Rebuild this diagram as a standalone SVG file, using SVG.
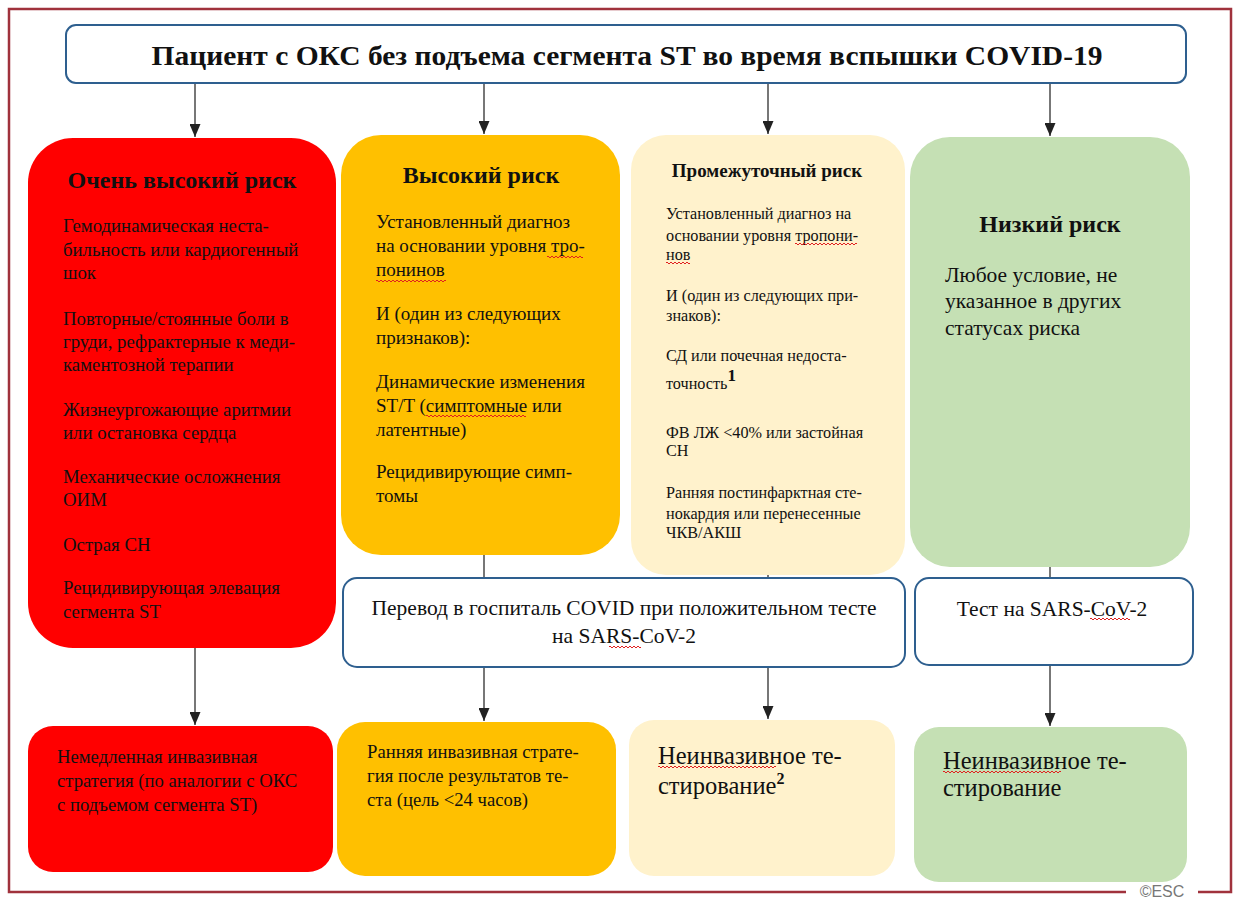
<svg xmlns="http://www.w3.org/2000/svg" width="1240" height="901" viewBox="0 0 1240 901">
  <style>
    .t { font-family: "Liberation Serif", "Times New Roman", serif; fill: #111; }
    .h { font-weight: bold; }
    .hd { font-size: 24px; font-weight: bold; }
    .b19 { font-size: 19px; }
    .b16 { font-size: 16.2px; }
    .b21 { font-size: 21.5px; }
    .b24 { font-size: 24.5px; }
    .box { stroke: #2e5f8f; stroke-width: 2; fill: #fff; }
    .conn { stroke: #555; stroke-width: 1.6; fill: none; }
    .sq { stroke: #e02020; stroke-width: 1; fill: none; }
  </style>
  <defs>
    <marker id="arr" viewBox="0 0 13 11" refX="13" refY="5.5" markerWidth="13" markerHeight="11" markerUnits="userSpaceOnUse" orient="auto">
      <path d="M0,0 L13,5.5 L0,11 Z" fill="#222"/>
    </marker>
  </defs>

  <rect width="1240" height="901" fill="#fff"/>

  <!-- outer frame -->
  <path d="M1126,892 L9,892 L9,9 L1231,9 L1231,892 L1198,892" fill="none" stroke="#a0323c" stroke-width="2.5"/>
  <text x="1162" y="897" font-family="Liberation Sans, Arial, sans-serif" font-size="16" fill="#777" text-anchor="middle">©ESC</text>

  <!-- connectors -->
  <g id="connectors">
    <line class="conn" x1="195" y1="84" x2="195" y2="137" marker-end="url(#arr)"/>
    <line class="conn" x1="484" y1="84" x2="484" y2="134" marker-end="url(#arr)"/>
    <line class="conn" x1="768" y1="84" x2="768" y2="134" marker-end="url(#arr)"/>
    <line class="conn" x1="1050" y1="84" x2="1050" y2="136" marker-end="url(#arr)"/>
    <line class="conn" x1="484" y1="555" x2="484" y2="579"/>
    <line class="conn" x1="768" y1="575" x2="768" y2="579"/>
    <line class="conn" x1="1050" y1="567" x2="1050" y2="579"/>
    <line class="conn" x1="195" y1="648" x2="195" y2="725" marker-end="url(#arr)"/>
    <line class="conn" x1="484" y1="667" x2="484" y2="721" marker-end="url(#arr)"/>
    <line class="conn" x1="768" y1="667" x2="768" y2="719" marker-end="url(#arr)"/>
    <line class="conn" x1="1050" y1="665" x2="1050" y2="726" marker-end="url(#arr)"/>
  </g>

  <!-- title -->
  <g id="title">
    <rect class="box" x="66" y="25" width="1120" height="58" rx="10"/>
    <text class="t h" x="627" y="65" font-size="28" text-anchor="middle" textLength="951" lengthAdjust="spacingAndGlyphs">Пациент с ОКС без подъема сегмента ST во время вспышки COVID-19</text>
  </g>

  <!-- very high risk -->
  <g id="very-high">
    <rect x="28" y="138" width="308" height="510" rx="45" fill="#ff0000"/>
    <text class="t hd" x="182" y="188" text-anchor="middle">Очень высокий риск</text>
    <g class="t" font-size="18.8px">
      <text x="63" y="232">Гемодинамическая неста-</text>
      <text x="63" y="256">бильность или кардиогенный</text>
      <text x="63" y="279">шок</text>
      <text x="63" y="325">Повторные/стоянные боли в</text>
      <text x="63" y="348">груди, рефрактерные к меди-</text>
      <text x="63" y="371">каментозной терапии</text>
      <text x="63" y="416">Жизнеургожающие аритмии</text>
      <text x="63" y="439">или остановка сердца</text>
      <text x="63" y="483">Механические осложнения</text>
      <text x="63" y="506">ОИМ</text>
      <text x="63" y="551">Острая СН</text>
      <text x="63" y="594">Рецидивирующая элевация</text>
      <text x="63" y="618">сегмента ST</text>
    </g>
  </g>

  <!-- high risk -->
  <g id="high">
    <rect x="341" y="135" width="279" height="420" rx="40" fill="#ffc000"/>
    <text class="t hd" x="481" y="183" text-anchor="middle">Высокий риск</text>
    <g class="t b19">
      <text x="376" y="228">Установленный диагноз</text>
      <text x="376" y="252">на основании уровня тро-</text>
      <text x="376" y="276">понинов</text>
      <text x="376" y="320">И (один из следующих</text>
      <text x="376" y="344">признаков):</text>
      <text x="376" y="388">Динамические изменения</text>
      <text x="376" y="412">ST/T (симптомные или</text>
      <text x="376" y="436">латентные)</text>
      <text x="376" y="478">Рецидивирующие симп-</text>
      <text x="376" y="502">томы</text>
    </g>
    <path class="sq" d="M547,257 q1,-2 2,0 t2,0 t2,0 t2,0 t2,0 t2,0 t2,0 t2,0 t2,0 t2,0 t2,0 t2,0 t2,0 t2,0 t2,0 t2,0 t2,0 t2,0"/>
    <path class="sq" d="M376,281 q1,-2 2,0 t2,0 t2,0 t2,0 t2,0 t2,0 t2,0 t2,0 t2,0 t2,0 t2,0 t2,0 t2,0 t2,0 t2,0 t2,0 t2,0 t2,0 t2,0 t2,0 t2,0 t2,0 t2,0 t2,0 t2,0 t2,0 t2,0 t2,0 t2,0 t2,0 t2,0 t2,0 t2,0 t2,0 t2,0"/>
    <path class="sq" d="M426,416 q1,-2 2,0 t2,0 t2,0 t2,0 t2,0 t2,0 t2,0 t2,0 t2,0 t2,0 t2,0 t2,0 t2,0 t2,0 t2,0 t2,0 t2,0 t2,0 t2,0 t2,0 t2,0 t2,0 t2,0 t2,0 t2,0 t2,0 t2,0 t2,0 t2,0 t2,0 t2,0 t2,0 t2,0 t2,0 t2,0 t2,0 t2,0 t2,0 t2,0 t2,0 t2,0 t2,0 t2,0 t2,0 t2,0 t2,0 t2,0 t2,0 t2,0 t2,0"/>
  </g>

  <!-- intermediate risk -->
  <g id="intermediate">
    <rect x="631" y="135" width="274" height="440" rx="35" fill="#fff2cc"/>
    <text class="t h" x="767" y="177" font-size="19" text-anchor="middle">Промежуточный риск</text>
    <g class="t b16">
      <text x="666" y="219">Установленный диагноз на</text>
      <text x="666" y="241">основании уровня тропони-</text>
      <text x="666" y="260">нов</text>
      <text x="666" y="301">И (один из следующих при-</text>
      <text x="666" y="321">знаков):</text>
      <text x="666" y="361">СД или почечная недоста-</text>
      <text x="666" y="389">точность<tspan class="h" font-size="17" dy="-8">1</tspan></text>
      <text x="666" y="438">ФВ ЛЖ &lt;40% или застойная</text>
      <text x="666" y="456">СН</text>
      <text x="666" y="498">Ранняя постинфарктная сте-</text>
      <text x="666" y="519">нокардия или перенесенные</text>
      <text x="666" y="538">ЧКВ/АКШ</text>
    </g>
    <path class="sq" d="M795,244 q1,-2 2,0 t2,0 t2,0 t2,0 t2,0 t2,0 t2,0 t2,0 t2,0 t2,0 t2,0 t2,0 t2,0 t2,0 t2,0 t2,0 t2,0 t2,0 t2,0 t2,0 t2,0 t2,0 t2,0 t2,0 t2,0 t2,0 t2,0 t2,0 t2,0 t2,0 t2,0"/>
    <path class="sq" d="M666,263 q1,-2 2,0 t2,0 t2,0 t2,0 t2,0 t2,0 t2,0 t2,0 t2,0 t2,0 t2,0 t2,0"/>
  </g>

  <!-- low risk -->
  <g id="low">
    <rect x="910" y="137" width="280" height="430" rx="40" fill="#c5e0b4"/>
    <text class="t hd" x="1050" y="232" text-anchor="middle">Низкий риск</text>
    <g class="t b21">
      <text x="945" y="282">Любое условие, не</text>
      <text x="945" y="308">указанное в других</text>
      <text x="945" y="335">статусах риска</text>
    </g>
  </g>

  <!-- transfer box -->
  <g id="transfer">
    <rect class="box" x="343" y="578" width="562" height="89" rx="14"/>
    <text class="t b21" x="624" y="615" text-anchor="middle">Перевод в госпиталь COVID при положительном тесте</text>
    <text class="t b21" x="624" y="643" text-anchor="middle">на SARS-CoV-2</text>
    <path class="sq" d="M609,647 q1,-2 2,0 t2,0 t2,0 t2,0 t2,0 t2,0 t2,0 t2,0 t2,0 t2,0 t2,0 t2,0 t2,0 t2,0 t2,0 t2,0"/>
  </g>

  <!-- test box -->
  <g id="test">
    <rect class="box" x="915" y="578" width="278" height="87" rx="14"/>
    <text class="t b21" x="1052" y="616" text-anchor="middle">Тест на SARS-CoV-2</text>
    <path class="sq" d="M1090,619 q1,-2 2,0 t2,0 t2,0 t2,0 t2,0 t2,0 t2,0 t2,0 t2,0 t2,0 t2,0 t2,0 t2,0 t2,0 t2,0 t2,0 t2,0 t2,0 t2,0 t2,0"/>
  </g>

  <!-- outcomes -->
  <g id="out-very-high">
    <rect x="28" y="726" width="305" height="146" rx="25" fill="#ff0000"/>
    <g class="t" font-size="18.7px">
      <text x="57" y="763">Немедленная инвазивная</text>
      <text x="57" y="787">стратегия (по аналогии с ОКС</text>
      <text x="57" y="811">с подъемом сегмента ST)</text>
    </g>
  </g>

  <g id="out-high">
    <rect x="337" y="722" width="279" height="154" rx="28" fill="#ffc000"/>
    <g class="t" font-size="18.7px">
      <text x="367" y="758">Ранняя инвазивная страте-</text>
      <text x="367" y="782">гия после результатов те-</text>
      <text x="367" y="806">ста (цель &lt;24 часов)</text>
    </g>
  </g>

  <g id="out-intermediate">
    <rect x="629" y="720" width="266" height="156" rx="25" fill="#fff2cc"/>
    <g class="t b24">
      <text x="658" y="764">Неинвазивное те-</text>
      <text x="658" y="794">стирование<tspan class="h" font-size="16" dy="-10">2</tspan></text>
    </g>
    <path class="sq" d="M658,767 q1,-2 2,0 t2,0 t2,0 t2,0 t2,0 t2,0 t2,0 t2,0 t2,0 t2,0 t2,0 t2,0 t2,0 t2,0 t2,0 t2,0 t2,0 t2,0 t2,0 t2,0 t2,0 t2,0 t2,0 t2,0 t2,0 t2,0 t2,0 t2,0 t2,0 t2,0 t2,0 t2,0 t2,0 t2,0 t2,0 t2,0 t2,0 t2,0 t2,0 t2,0 t2,0 t2,0 t2,0 t2,0 t2,0 t2,0 t2,0 t2,0 t2,0 t2,0 t2,0 t2,0 t2,0 t2,0 t2,0 t2,0 t2,0 t2,0 t2,0"/>
  </g>

  <g id="out-low">
    <rect x="914" y="727" width="273" height="155" rx="25" fill="#c5e0b4"/>
    <g class="t b24">
      <text x="943" y="769">Неинвазивное те-</text>
      <text x="943" y="796">стирование</text>
    </g>
    <path class="sq" d="M943,772 q1,-2 2,0 t2,0 t2,0 t2,0 t2,0 t2,0 t2,0 t2,0 t2,0 t2,0 t2,0 t2,0 t2,0 t2,0 t2,0 t2,0 t2,0 t2,0 t2,0 t2,0 t2,0 t2,0 t2,0 t2,0 t2,0 t2,0 t2,0 t2,0 t2,0 t2,0 t2,0 t2,0 t2,0 t2,0 t2,0 t2,0 t2,0 t2,0 t2,0 t2,0 t2,0 t2,0 t2,0 t2,0 t2,0 t2,0 t2,0 t2,0 t2,0 t2,0 t2,0 t2,0 t2,0 t2,0 t2,0 t2,0 t2,0 t2,0 t2,0"/>
  </g>
</svg>
